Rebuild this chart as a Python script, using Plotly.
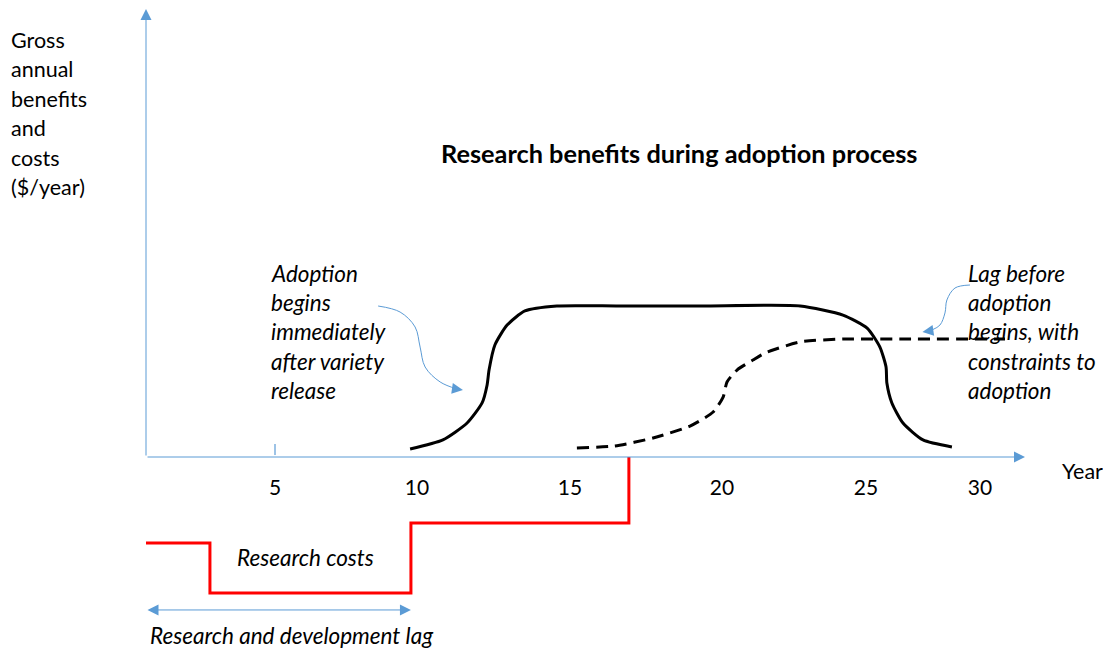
import plotly.graph_objects as go

# ---------------- data (years / value units) ----------------
benefit_year = [9.50, 10.68, 11.55, 12.09, 12.27, 12.34, 12.55, 12.99, 13.63, 14.78,
                17.00, 20.00, 23.53, 25.07, 25.94, 26.40, 26.62, 26.65, 26.83, 27.23,
                27.95, 28.99]
benefit_value = [5.3, 11.3, 22.5, 35.8, 47.7, 57.6, 74.2, 87.4, 96.7, 100.0,
                 100.0, 100.0, 100.0, 94.0, 85.4, 72.8, 59.6, 49.0, 35.8, 22.5,
                 11.3, 6.6]

lag_year = [15.50, 16.87, 18.24, 19.57, 20.40, 20.76, 20.90, 21.26, 21.83, 22.27,
            23.53, 25.07, 27.50, 30.90]
lag_value = [6.0, 7.3, 12.6, 20.5, 29.8, 39.7, 49.7, 57.6, 64.2, 68.9,
             76.2, 78.1, 78.1, 78.1]

cost_year = [0.0, 2.30, 9.53, 17.37]
cost_value = [-57.0, -90.0, -43.7, 0.0]

tick_pos = [4.64, 9.75, 15.25, 20.72, 25.90, 30.0]
tick_text = ["5", "10", "15", "20", "25", "30"]

adopt_arrow_year = [8.35, 9.14, 9.68, 9.86, 10.04, 10.58, 11.19]
adopt_arrow_value = [100.0, 96.0, 86.1, 72.8, 59.6, 49.7, 45.0]
lag_arrow_year = [29.64, 29.10, 28.81, 28.74, 28.56, 28.27]
lag_arrow_value = [113.9, 111.9, 104.0, 95.4, 87.4, 84.1]

# ---------------- layout helpers ----------------
W, H = 1111, 652          # browser window
OFF = 8                   # page body margin
FW, FH = W - OFF, H - OFF  # figure size
OX, OY = 146, 457         # screen pixel of origin
KX, KY = 27.8, 1.51       # pixels per unit

def px(x):
    return (x - OFF) / FW

def py(y):
    return 1 - (y - OFF) / FH

FONT = "Lato"
BLUE = "#5B9BD5"

fig = go.Figure()

fig.add_trace(go.Scatter(x=cost_year, y=cost_value, mode="lines", line_shape="hv",
                         line=dict(color="#FF0000", width=3), hoverinfo="skip"))
fig.add_trace(go.Scatter(x=benefit_year, y=benefit_value, mode="lines", line_shape="spline",
                         line=dict(color="black", width=3, smoothing=0.6), hoverinfo="skip"))
fig.add_trace(go.Scatter(x=lag_year, y=lag_value, mode="lines", line_shape="spline",
                         line=dict(color="black", width=3, dash="12px,7px", smoothing=0.6),
                         hoverinfo="skip"))
fig.add_trace(go.Scatter(x=adopt_arrow_year, y=adopt_arrow_value, mode="lines", line_shape="spline",
                         line=dict(color=BLUE, width=1), hoverinfo="skip"))
fig.add_trace(go.Scatter(x=lag_arrow_year, y=lag_arrow_value, mode="lines", line_shape="spline",
                         line=dict(color=BLUE, width=1), hoverinfo="skip"))
fig.add_trace(go.Scatter(x=tick_pos, y=[-22.0] * len(tick_pos), mode="text", text=tick_text,
                         textfont=dict(family=FONT, size=21, color="black"), hoverinfo="skip"))

x_end = (1025 - OX) / KX
y_end = (OY - 9) / KY
anns = []
# axes arrows
anns.append(dict(x=x_end, y=0, ax=0, ay=0, axref="x", ayref="y", xref="x", yref="y",
                 showarrow=True, arrowhead=2, arrowsize=2.2, arrowwidth=1, arrowcolor=BLUE, text=""))
anns.append(dict(x=0, y=y_end, ax=0, ay=0, axref="x", ayref="y", xref="x", yref="y",
                 showarrow=True, arrowhead=2, arrowsize=2.2, arrowwidth=1, arrowcolor=BLUE, text=""))
# double arrow
anns.append(dict(x=cost_year[2], y=-101.3, ax=0, ay=-101.3, axref="x", ayref="y", xref="x", yref="y",
                 showarrow=True, arrowhead=2, startarrowhead=2, arrowside="end+start",
                 arrowsize=2.2, startarrowsize=2.2, arrowwidth=1, arrowcolor=BLUE, text=""))
# curved arrow heads
anns.append(dict(x=11.40, y=44.4, ax=-7, ay=-1, xref="x", yref="y", showarrow=True, arrowhead=2,
                 arrowsize=2.2, arrowwidth=1, arrowcolor=BLUE, text=""))
anns.append(dict(x=27.93, y=82.8, ax=7, ay=-1, xref="x", yref="y", showarrow=True, arrowhead=2,
                 arrowsize=2.2, arrowwidth=1, arrowcolor=BLUE, text=""))

def txt(s, x, y, size=21.5, bold=False, italic=False, xanchor="left"):
    if bold:
        s = "<b>" + s + "</b>"
    if italic:
        s = "<i>" + s + "</i>"
    anns.append(dict(text=s, x=px(x), y=py(y), xref="paper", yref="paper", showarrow=False,
                     xanchor=xanchor, yanchor="middle",
                     font=dict(family=FONT, size=size, color="black")))

for i, s in enumerate(["Gross", "annual", "benefits", "and", "costs", "($/year)"]):
    txt(s, 9, 40 + i * 29.4)
txt("Research benefits during adoption process", 679, 153, size=25.3, bold=True, xanchor="center")
for i, s in enumerate(["Adoption", "begins", "immediately", "after variety", "release"]):
    txt(s, 269, 273 + i * 29.4, size=22.5, italic=True)
for i, s in enumerate(["Lag before", "adoption", "begins, with", "constraints to", "adoption"]):
    txt(s, 966, 273 + i * 29.4, size=22.5, italic=True)
txt("Research costs", 235, 557, size=22.5, italic=True)
txt("Research and development lag", 148, 635, size=22.5, italic=True)
txt("Year", 1060, 471)

fig.update_layout(
    width=FW, height=FH, margin=dict(l=0, r=0, t=0, b=0),
    paper_bgcolor="white", plot_bgcolor="white", showlegend=False,
    xaxis=dict(range=[-(OX - OFF) / KX, (W - OX) / KX], visible=False, fixedrange=True),
    yaxis=dict(range=[(OY - H) / KY, (OY - OFF) / KY], visible=False, fixedrange=True),
    annotations=anns,
    shapes=[dict(type="line", xref="x", yref="y", x0=tick_pos[0], x1=tick_pos[0],
                 y0=1.3, y1=8.6, line=dict(color="#9DC3E6", width=2))],
)

fig.write_html("out.html")
